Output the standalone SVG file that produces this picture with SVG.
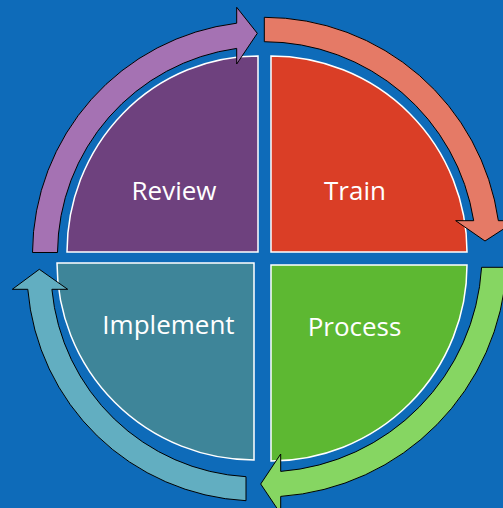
<svg xmlns="http://www.w3.org/2000/svg" width="503" height="508" viewBox="0 0 503 508">
<style>
.q{stroke:#ffffff;stroke-width:1.5}
.arr{stroke:#000000;stroke-width:1;stroke-linejoin:miter}
.lbl{font-family:"Open Sans","Noto Sans","DejaVu Sans",sans-serif;font-size:26px;fill:#ffffff;text-anchor:middle}
</style>
<rect x="0" y="0" width="503" height="508" fill="#0E6BB9"/>
<g id="review">
<path class="q" fill="#6E417E" d="M 258 252 L 67 252 A 191 196 0 0 1 258 56 Z"/>
<text class="lbl" x="174" y="200">Review</text>
</g>
<g id="train">
<path class="q" fill="#DA3E26" d="M 271 252 L 271 56 A 196 196 0 0 1 467 252 Z"/>
<text class="lbl" x="355" y="199.5">Train</text>
</g>
<g id="process">
<path class="q" fill="#5DB832" d="M 271 265 L 467 265 A 196 196 0 0 1 271 461 Z"/>
<text class="lbl" x="354.5" y="336">Process</text>
</g>
<g id="implement">
<path class="q" fill="#3E8599" d="M 254 263 L 254 460 A 197 197 0 0 1 57 263 Z"/>
<text class="lbl" x="168.5" y="333.5">Implement</text>
</g>
<g id="connectors">
<path class="arr" fill="#A572B3" d="M 32.5 252.5 A 232.5 232.5 0 0 1 236.7 23.2 L 236.7 7.3 L 257.3 33.3 L 236.7 64 L 236.7 48.4 A 207.5 207.5 0 0 0 57.5 252.5 Z"/>
<path class="arr" fill="#E57A66" d="M 264.3 17.3 A 236.7 236.7 0 0 1 498.35 220.7 L 516.3 220.7 L 485 241 L 455.7 220.7 L 473.7 220.7 A 212.3 212.3 0 0 0 264.3 41.7 Z"/>
<path class="arr" fill="#86D662" d="M 506.6 267.3 A 243 243 0 0 1 280.7 496.4 L 280.7 513.8 L 260.7 484 L 280.7 454 L 280.7 471.4 A 218 218 0 0 0 481.6 267.3 Z"/>
<path class="arr" fill="#62AEC1" d="M 246 500.7 A 231 231 0 0 1 27.8 289.3 L 12.3 289.3 L 39.3 269.3 L 67.7 289.3 L 51.9 289.3 A 207 207 0 0 0 246 476.7 Z"/>
</g>
</svg>
